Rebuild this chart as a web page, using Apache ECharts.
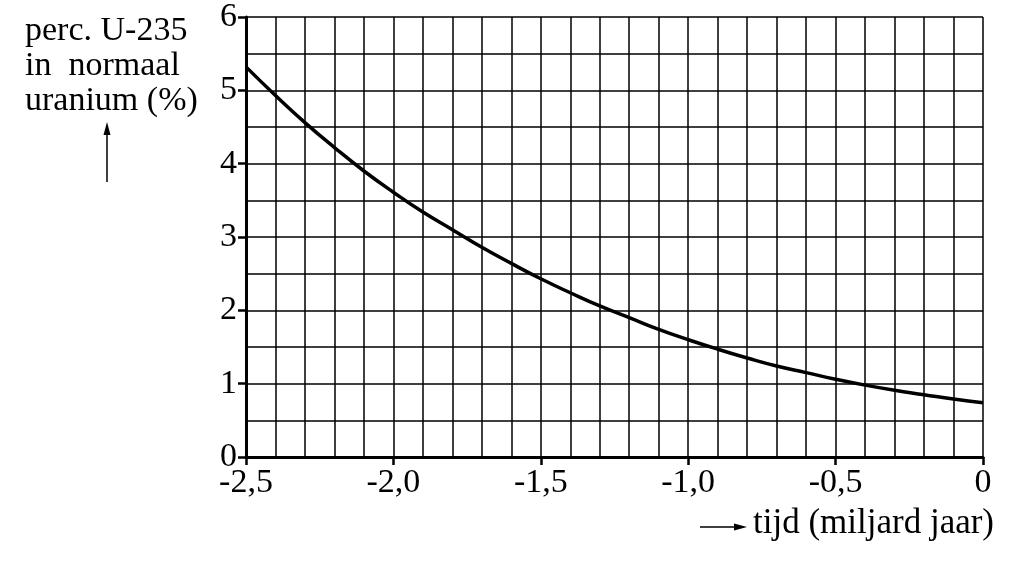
<!DOCTYPE html>
<html>
<head>
<meta charset="utf-8">
<script src="https://cdn.jsdelivr.net/npm/echarts@6/dist/echarts.min.js"></script>
<style>
  html, body { margin: 0; padding: 0; background: #fff; }
  #chart { width: 1016px; height: 568px; }
</style>
</head>
<body>
<div id="chart"></div>
<script>
// Data
var tijd = [-2.5, -2.4, -2.3, -2.2, -2.1, -2.0, -1.9, -1.8, -1.7, -1.6, -1.5, -1.4, -1.3,
            -1.2, -1.1, -1.0, -0.9, -0.8, -0.7, -0.6, -0.5, -0.4, -0.3, -0.2, -0.1, 0];
var percU235 = [5.32, 4.93, 4.56, 4.22, 3.90, 3.61, 3.34, 3.10, 2.86, 2.64, 2.43, 2.24, 2.06,
                1.90, 1.74, 1.60, 1.47, 1.35, 1.24, 1.15, 1.06, 0.98, 0.91, 0.85, 0.79, 0.74];
var yTitle = ["perc. U-235", "in  normaal", "uranium (%)"];
var xTitle = "tijd (miljard jaar)";

var chartEl = document.getElementById("chart");
var chart = echarts.init(chartEl);

var font = "'Liberation Serif', 'Times New Roman', serif";

var curve = tijd.map(function (t, i) { return [t, percU235[i]]; });

// shared grid styles: major lines on labels, minor lines for the fine grid
var gridLine = { show: true, lineStyle: { color: "#000", width: 1.5 } };
var tickStyle = { color: "#000", width: 2.5 };

chart.setOption({
  animation: false,
  textStyle: { fontFamily: font, color: "#000" },

  grid: { left: 246, right: 33, top: 15, bottom: 111 },

  xAxis: {
    type: "value",
    min: -2.5,
    max: 0,
    interval: 0.5,
    axisLine: { show: true, onZero: false, lineStyle: { color: "#000", width: 3 } },
    axisTick: { show: true, length: 8, lineStyle: tickStyle },
    minorTick: { show: false, splitNumber: 5 },
    axisLabel: {
      margin: 9,
      fontSize: 34,
      fontFamily: font,
      color: "#000",
      formatter: function (v) {
        return v === 0 ? "0" : v.toFixed(1).replace(".", ",");
      }
    },
    splitLine: gridLine,
    minorSplitLine: gridLine
  },

  yAxis: {
    type: "value",
    min: 0,
    max: 6,
    interval: 1,
    axisLine: { show: true, onZero: false, lineStyle: { color: "#000", width: 3 } },
    axisTick: { show: true, length: 8, lineStyle: tickStyle },
    minorTick: { show: false, splitNumber: 2 },
    axisLabel: {
      margin: 9,
      fontSize: 34,
      fontFamily: font,
      color: "#000"
    },
    splitLine: gridLine,
    minorSplitLine: gridLine
  },

  series: [
    {
      type: "line",
      data: curve,
      smooth: true,
      symbol: "none",
      lineStyle: { color: "#000", width: 3.5 },
      z: 5
    }
  ],

  graphic: [
    {
      type: "text",
      left: 25,
      top: 14,
      style: {
        text: yTitle.join("\n"),
        font: "34px " + font,
        lineHeight: 35,
        fill: "#000",
        align: "left"
      }
    },
    // vertical arrow under the y title
    {
      type: "line",
      shape: { x1: 107, y1: 182, x2: 107, y2: 132 },
      style: { stroke: "#000", lineWidth: 1.5 }
    },
    {
      type: "polygon",
      shape: { points: [[107, 122], [103.5, 135], [110.5, 135]] },
      style: { fill: "#000" }
    },
    // horizontal arrow before the x title
    {
      type: "line",
      shape: { x1: 700, y1: 527, x2: 736, y2: 527 },
      style: { stroke: "#000", lineWidth: 1.5 }
    },
    {
      type: "polygon",
      shape: { points: [[747, 527], [734, 523.5], [734, 530.5]] },
      style: { fill: "#000" }
    },
    {
      type: "text",
      left: 753,
      top: 506,
      style: {
        text: xTitle,
        font: "35px " + font,
        fill: "#000"
      }
    }
  ]
});

window.addEventListener("resize", function () {
  chart.resize();
});
</script>
</body>
</html>
